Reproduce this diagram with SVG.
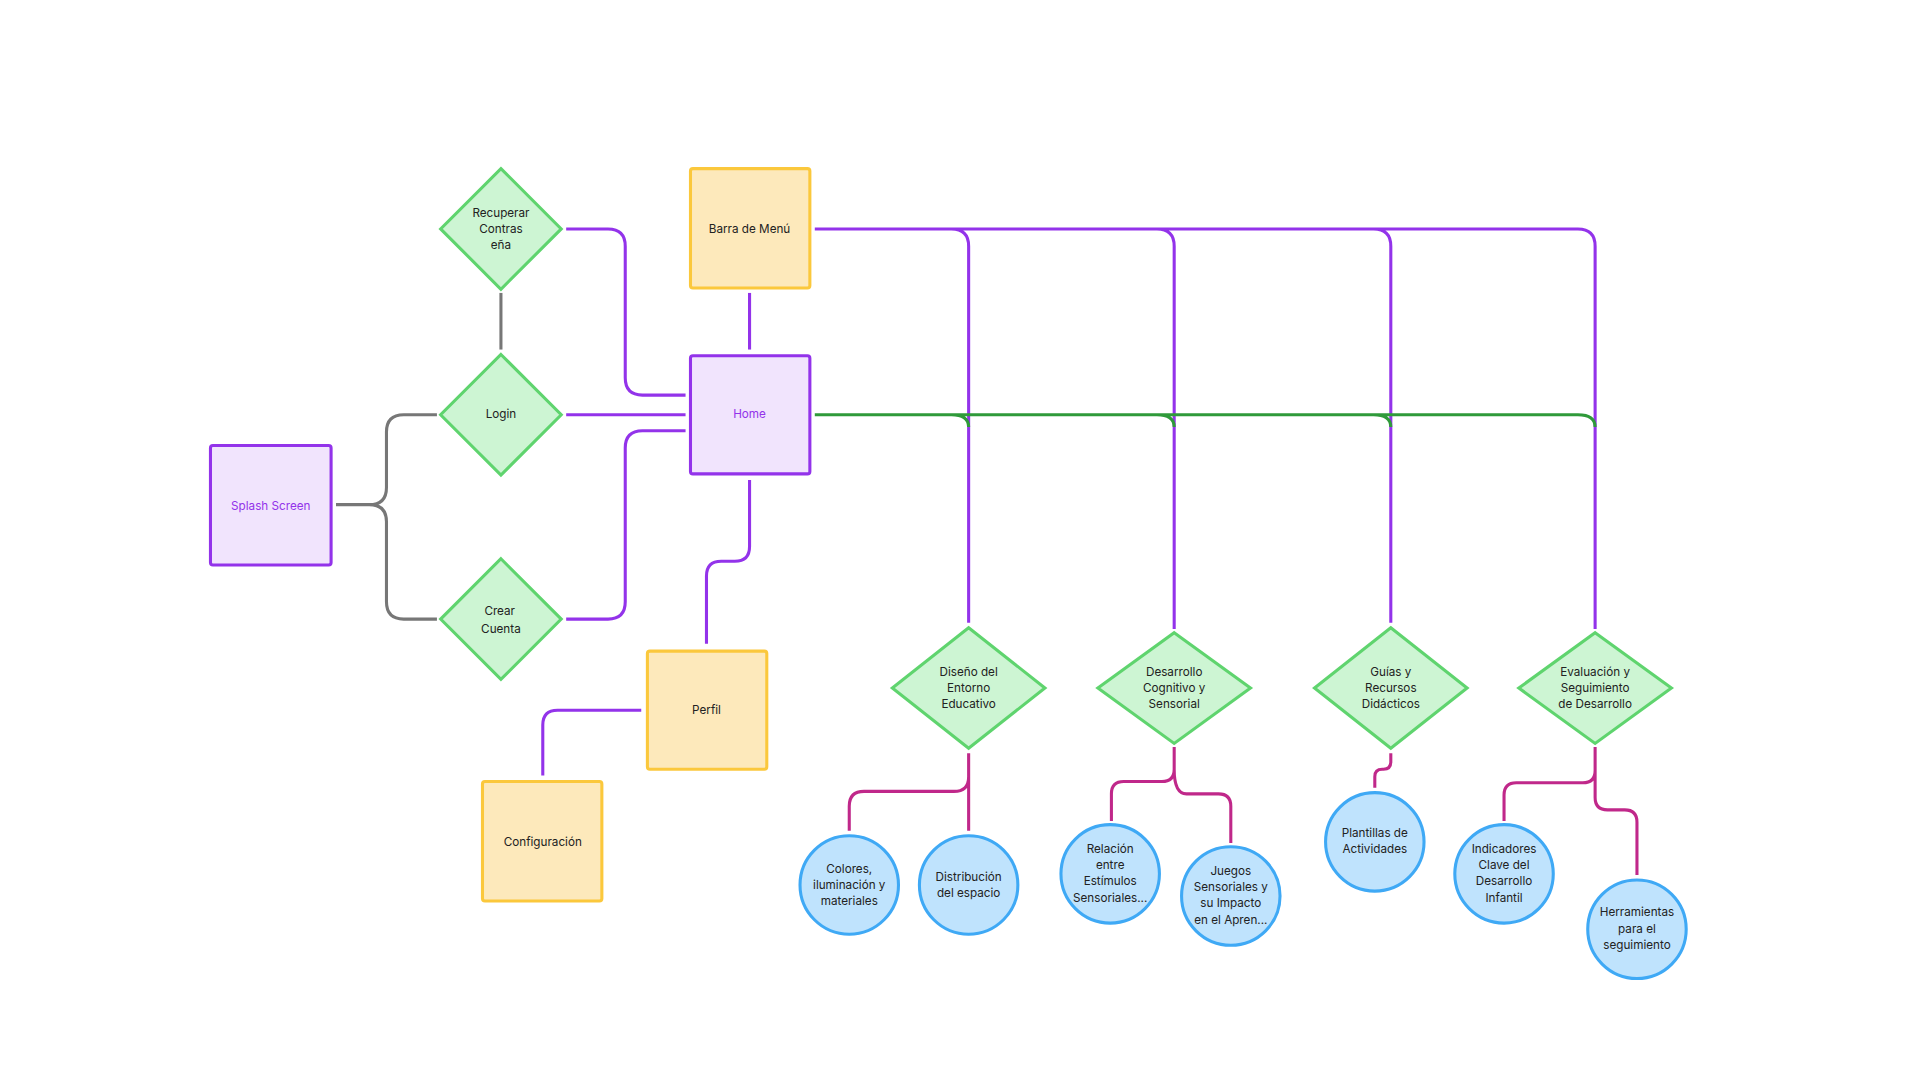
<svg xmlns="http://www.w3.org/2000/svg" width="1920" height="1080" viewBox="0 0 1920 1080">
<style>
text{font-family:Inter,"Liberation Sans",sans-serif;font-size:9.5px;fill:#222;text-anchor:middle}
.pur{fill:#f1e4fd;stroke:#9333ea;stroke-width:2.5}
.yel{fill:#fde9bb;stroke:#fbc83c;stroke-width:2.5}
.dia{fill:#cdf5d3;stroke:#5fd46e;stroke-width:2.5}
.cir{fill:#bfe3fd;stroke:#3fa9f5;stroke-width:2.5}
.c{fill:none;stroke-width:2.5}
.g{stroke:#777}.p{stroke:#9333ea}.gr{stroke:#2f9a3a}.m{stroke:#c0288a}
</style>
<rect width="1920" height="1080" fill="#fff"/>
<g transform="scale(1.2308)">
<g id="connectors">
<path class="c g" d="M273 410H300Q314 410 314 396V351Q314 337 328 337H355M300 410Q314 410 314 424V489Q314 503 328 503H355"/>
<path class="c g" d="M407 238V284"/>
<path class="c p" d="M460 186H494Q508 186 508 200V307Q508 321 522 321H557"/>
<path class="c p" d="M460 337H557"/>
<path class="c p" d="M460 503H494Q508 503 508 489V364Q508 350 522 350H557"/>
<path class="c p" d="M609 238V284"/>
<path class="c p" d="M609 390V444Q609 456 597 456H586Q574 456 574 468V523"/>
<path class="c p" d="M521 577H453Q441 577 441 589V630"/>
<path class="c p" d="M662 186H1282Q1296 186 1296 200V511M773 186Q787 186 787 200V506M940 186Q954 186 954 200V511M1116 186Q1130 186 1130 200V506"/>
<path class="c gr" d="M662 337H1282Q1296 337 1296 347M773 337Q787 337 787 347M940 337Q954 337 954 347M1116 337Q1130 337 1130 347"/>
<path class="c m" d="M787 612V631Q787 643 775 643H702Q690 643 690 655V675M787 631V675"/>
<path class="c m" d="M954 607V625Q954 635 944 635H913Q903 635 903 645V667M954 625Q954 645 964 645H990Q1000 645 1000 655V685"/>
<path class="c m" d="M1130 612V619Q1130 625 1124 625H1123Q1117 625 1117 631V640"/>
<path class="c m" d="M1296 607V626Q1296 636 1286 636H1232Q1222 636 1222 646V667M1296 626V648Q1296 658 1306 658H1320Q1330 658 1330 668V711"/>
</g>
<g id="splash"><rect class="pur" x="171" y="362" width="98" height="97" rx="2"/><text x="220" y="414" style="fill:#9333ea">Splash Screen</text></g>
<g id="recuperar"><path class="dia" d="M407 137L456 186L407 235L358 186Z"/><text x="407" y="176">Recuperar</text><text x="407" y="189">Contras</text><text x="407" y="202">eña</text></g>
<g id="login"><path class="dia" d="M407 288L456 337L407 386L358 337Z"/><text x="407" y="340">Login</text></g>
<g id="crear"><path class="dia" d="M407 454L456 503L407 552L358 503Z"/><text x="406" y="500">Crear</text><text x="407" y="514">Cuenta</text></g>
<g id="barra"><rect class="yel" x="561" y="137" width="97" height="97" rx="2"/><text x="609" y="189">Barra de Menú</text></g>
<g id="home"><rect class="pur" x="561" y="289" width="97" height="96" rx="2"/><text x="609" y="340" style="fill:#9333ea">Home</text></g>
<g id="perfil"><rect class="yel" x="526" y="529" width="97" height="96" rx="2"/><text x="574" y="580">Perfil</text></g>
<g id="config"><rect class="yel" x="392" y="635" width="97" height="97" rx="2"/><text x="441" y="687">Configuración</text></g>
<g id="diseno"><path class="dia" d="M787 510L849 559L787 608L725 559Z"/><text x="787" y="549">Diseño del</text><text x="787" y="562">Entorno</text><text x="787" y="575">Educativo</text></g>
<g id="desarrollo"><path class="dia" d="M954 514L1016 559L954 604L892 559Z"/><text x="954" y="549">Desarrollo</text><text x="954" y="562">Cognitivo y</text><text x="954" y="575">Sensorial</text></g>
<g id="guias"><path class="dia" d="M1130 510L1192 559L1130 608L1068 559Z"/><text x="1130" y="549">Guías y</text><text x="1130" y="562">Recursos</text><text x="1130" y="575">Didácticos</text></g>
<g id="evaluacion"><path class="dia" d="M1296 514L1358 559L1296 604L1234 559Z"/><text x="1296" y="549">Evaluación y</text><text x="1296" y="562">Seguimiento</text><text x="1296" y="575">de Desarrollo</text></g>
<g id="colores"><circle class="cir" cx="690" cy="719" r="40"/><text x="690" y="709">Colores,</text><text x="690" y="722">iluminación y</text><text x="690" y="735">materiales</text></g>
<g id="distribucion"><circle class="cir" cx="787" cy="719" r="40"/><text x="787" y="716">Distribución</text><text x="787" y="729">del espacio</text></g>
<g id="relacion"><circle class="cir" cx="902" cy="710" r="40"/><text x="902" y="693">Relación</text><text x="902" y="706">entre</text><text x="902" y="719">Estímulos</text><text x="902" y="733">Sensoriales...</text></g>
<g id="juegos"><circle class="cir" cx="1000" cy="728" r="40"/><text x="1000" y="711">Juegos</text><text x="1000" y="724">Sensoriales y</text><text x="1000" y="737">su Impacto</text><text x="1000" y="751">en el Apren...</text></g>
<g id="plantillas"><circle class="cir" cx="1117" cy="684" r="40"/><text x="1117" y="680">Plantillas de</text><text x="1117" y="693">Actividades</text></g>
<g id="indicadores"><circle class="cir" cx="1222" cy="710" r="40"/><text x="1222" y="693">Indicadores</text><text x="1222" y="706">Clave del</text><text x="1222" y="719">Desarrollo</text><text x="1222" y="733">Infantil</text></g>
<g id="herramientas"><circle class="cir" cx="1330" cy="755" r="40"/><text x="1330" y="744">Herramientas</text><text x="1330" y="758">para el</text><text x="1330" y="771">seguimiento</text></g>
</g>
</svg>
